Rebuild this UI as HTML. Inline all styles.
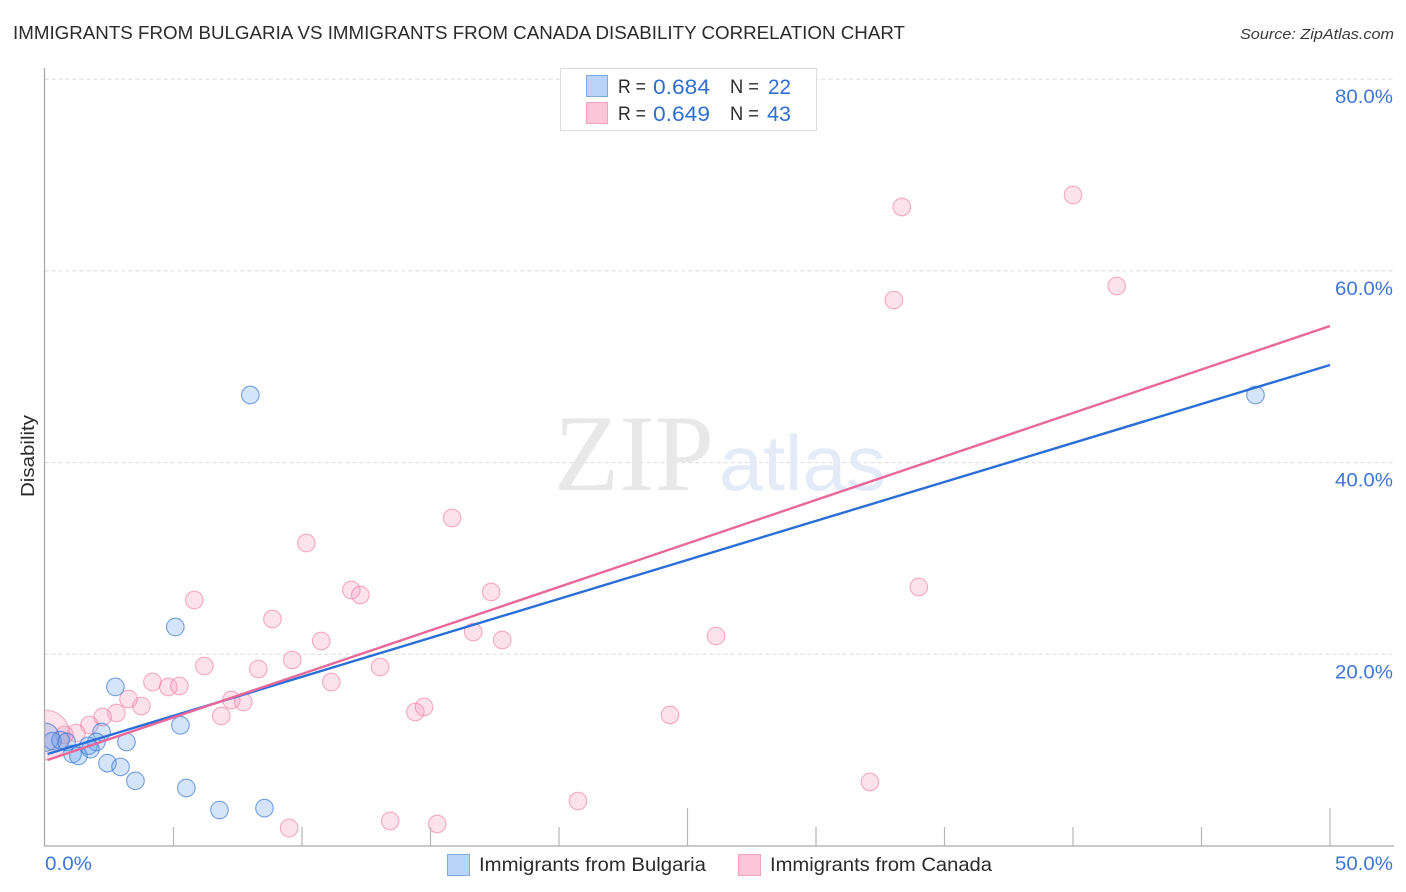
<!DOCTYPE html>
<html lang="en">
<head>
<meta charset="utf-8">
<title>Immigrants from Bulgaria vs Immigrants from Canada Disability Correlation Chart</title>
<style>
html,body{margin:0;padding:0;background:#fff;}
body{width:1406px;height:892px;overflow:hidden;}
svg{display:block;font-family:"Liberation Sans",sans-serif;}
#points{overflow:hidden;}
</style>
</head>
<body>
<svg id="chart" width="1406" height="892" viewBox="0 0 1406 892" xmlns="http://www.w3.org/2000/svg">
  <rect x="0" y="0" width="1406" height="892" fill="#ffffff"/>
  <text x="13" y="39" font-size="18.5" fill="#2b2b2b" textLength="892" lengthAdjust="spacingAndGlyphs">IMMIGRANTS FROM BULGARIA VS IMMIGRANTS FROM CANADA DISABILITY CORRELATION CHART</text>
  <text x="1394" y="39" font-size="15" font-style="italic" fill="#3a3a3a" text-anchor="end" textLength="154" lengthAdjust="spacingAndGlyphs">Source: ZipAtlas.com</text>

  <g id="grid"></g>

  <g>
    <text x="554" y="490" font-family="'Liberation Serif',serif" font-size="109" fill="#e8e8e8" textLength="160" lengthAdjust="spacingAndGlyphs">ZIP</text>
    <text x="719" y="490" font-size="78" fill="#e3ebf9" textLength="167" lengthAdjust="spacingAndGlyphs">atlas</text>
  </g>

  <svg id="points" x="45" y="60" width="1350" height="786" viewBox="45 60 1350 786"></svg>
  <rect x="0" y="60" width="44.5" height="786" fill="#ffffff"/>
  <g id="axes"></g>
  <g id="trends"></g>
  <g id="labels"></g>

  <text transform="translate(34,456) rotate(-90)" font-size="18.5" fill="#2b2b2b" text-anchor="middle" textLength="82" lengthAdjust="spacingAndGlyphs">Disability</text>

  <g>
    <rect x="560.5" y="68.5" width="256" height="62" fill="#ffffff" stroke="#dcdcdc" stroke-width="1"/>
    <rect x="586.5" y="75.5" width="21" height="21" fill="#b9d3f6" stroke="#7fa9e3" stroke-width="1"/>
    <rect x="586.5" y="102.5" width="21" height="21" fill="#fcc5d8" stroke="#f0a3bf" stroke-width="1"/>
    <text x="618" y="93" font-size="19" fill="#2b2b2b" textLength="28" lengthAdjust="spacingAndGlyphs">R =</text>
    <text x="653" y="94" font-size="21" fill="#2e6fd0" textLength="57" lengthAdjust="spacingAndGlyphs">0.684</text>
    <text x="730" y="93" font-size="19" fill="#2b2b2b" textLength="29" lengthAdjust="spacingAndGlyphs">N =</text>
    <text x="768" y="94" font-size="21" fill="#2e6fd0" textLength="23" lengthAdjust="spacingAndGlyphs">22</text>
    <text x="618" y="120" font-size="19" fill="#2b2b2b" textLength="28" lengthAdjust="spacingAndGlyphs">R =</text>
    <text x="653" y="121" font-size="21" fill="#2e6fd0" textLength="57" lengthAdjust="spacingAndGlyphs">0.649</text>
    <text x="730" y="120" font-size="19" fill="#2b2b2b" textLength="29" lengthAdjust="spacingAndGlyphs">N =</text>
    <text x="767" y="121" font-size="21" fill="#2e6fd0" textLength="24" lengthAdjust="spacingAndGlyphs">43</text>
  </g>

  <g>
    <rect x="447.5" y="854.5" width="22" height="21" fill="#b9d3f6" stroke="#7fa9e3" stroke-width="1"/>
    <text x="479" y="871" font-size="19.5" fill="#2b2b2b" textLength="227" lengthAdjust="spacingAndGlyphs">Immigrants from Bulgaria</text>
    <rect x="738.5" y="854.5" width="22" height="21" fill="#fcc5d8" stroke="#f0a3bf" stroke-width="1"/>
    <text x="770" y="871" font-size="19.5" fill="#2b2b2b" textLength="222" lengthAdjust="spacingAndGlyphs">Immigrants from Canada</text>
  </g>
</svg>
<script>
const yTickValues = [20, 40, 60, 80];
const yTickLabels = ['20.0%', '40.0%', '60.0%', '80.0%'];
const xTickValues = [5, 10, 15, 20, 25, 30, 35, 40, 45, 50];
const xMajorTicks = [25, 50];
const xEndValues = [0, 50];
const xEndLabels = ['0.0%', '50.0%'];

const bulgariaX = [7.99, 47.1, 5.07, 2.74, 5.27, 3.17, 2.2, 2.0, 1.69, 1.77, 1.07, 1.3, 2.43, 2.94, 3.52, 5.5, 6.79, 8.54, 0, 0.29, 0.6, 0.84];
const bulgariaY = [47.05, 47.05, 22.85, 16.6, 12.6, 10.85, 11.9, 10.85, 10.45, 10.1, 9.6, 9.4, 8.65, 8.25, 6.8, 6.05, 3.75, 3.95, 11.35, 10.95, 11.05, 10.85];
const bulgariaWeight = [1, 1, 1, 1, 1, 1, 1, 1, 1, 1, 1, 1, 1, 1, 1, 1, 1, 1, 2.6, 1, 1, 1];

const canadaX = [33.34, 40.0, 41.7, 33.03, 15.84, 10.17, 17.36, 11.92, 12.27, 34.0, 5.81, 8.85, 10.75, 16.66, 17.79, 26.11, 9.62, 6.2, 8.3, 13.04, 11.14, 4.18, 4.8, 5.23, 3.25, 3.75, 7.25, 7.72, 6.86, 14.41, 14.75, 24.32, 2.78, 2.24, 1.73, 1.22, 0.76, 0, 32.1, 20.74, 13.43, 15.26, 9.5];
const canadaY = [66.67, 67.92, 58.42, 56.96, 34.22, 31.61, 26.5, 26.71, 26.19, 27.02, 25.66, 23.68, 21.39, 22.33, 21.49, 21.91, 19.41, 18.78, 18.47, 18.67, 17.11, 17.11, 16.59, 16.69, 15.34, 14.61, 15.23, 15.02, 13.56, 13.98, 14.5, 13.67, 13.88, 13.46, 12.62, 11.79, 11.58, 11.58, 6.68, 4.69, 2.61, 2.3, 1.88];
const canadaWeight = [1, 1, 1, 1, 1, 1, 1, 1, 1, 1, 1, 1, 1, 1, 1, 1, 1, 1, 1, 1, 1, 1, 1, 1, 1, 1, 1, 1, 1, 1, 1, 1, 1, 1, 1, 1, 1, 8, 1, 1, 1, 1, 1];

const trendXEnds = [0.1, 50];
const bulgariaTrendY = [9.6, 50.18];
const canadaTrendY = [8.97, 54.25];

const NS = 'http://www.w3.org/2000/svg';
function xScale(v) { return 45 + v * 25.7; }
function yScale(v) { return 846 - v * 9.585; }
function radius(w) { return 8.8 * Math.sqrt(w); }
function make(tag, attrs, parent) {
  const el = document.createElementNS(NS, tag);
  Object.keys(attrs).forEach(function (k) { el.setAttribute(k, attrs[k]); });
  parent.appendChild(el);
  return el;
}

const gridG = document.getElementById('grid');
yTickValues.forEach(function (v) {
  const line = make('line', { x1: 44.5, x2: 1393, y1: yScale(v), y2: yScale(v), stroke: '#dcdcdc', 'stroke-width': 1, 'stroke-dasharray': '4 3' }, gridG);
  
  
});

const axesG = document.getElementById('axes');
const yAxisLine = make('line', { x1: 44.5, x2: 44.5, y1: 68, y2: 846, stroke: '#ababab', 'stroke-width': 1.3 }, axesG);


const xAxisLine = make('line', { x1: 44, x2: 1394, y1: 846, y2: 846, stroke: '#ababab', 'stroke-width': 1.3 }, axesG);


xTickValues.forEach(function (v) {
  const top = xMajorTicks.indexOf(v) >= 0 ? 808 : 827;
  const tick = make('line', { x1: xScale(v), x2: xScale(v), y1: top, y2: 846, stroke: '#b5b5b5', 'stroke-width': 1.2 }, axesG);
  
  
});

const pointsG = document.getElementById('points');
function drawSeries(xs, ys, ws, fill, stroke, name) {
  xs.forEach(function (x, i) {
    const c = make('circle', { cx: xScale(x), cy: yScale(ys[i]), r: radius(ws[i]), fill: fill, stroke: stroke, 'stroke-width': 1.1 }, pointsG);
    
    
  });
}
drawSeries(canadaX, canadaY, canadaWeight, 'rgba(248,150,185,0.28)', 'rgba(236,120,160,0.6)', 'canada-point');
drawSeries(bulgariaX, bulgariaY, bulgariaWeight, 'rgba(90,150,235,0.26)', 'rgba(50,115,210,0.65)', 'bulgaria-point');

const trendsG = document.getElementById('trends');
const bulgariaTrend = make('line', { x1: xScale(trendXEnds[0]), y1: yScale(bulgariaTrendY[0]), x2: xScale(trendXEnds[1]), y2: yScale(bulgariaTrendY[1]), stroke: '#2a6fd8', 'stroke-width': 2.4 }, trendsG);


const canadaTrend = make('line', { x1: xScale(trendXEnds[0]), y1: yScale(canadaTrendY[0]), x2: xScale(trendXEnds[1]), y2: yScale(canadaTrendY[1]), stroke: '#e8689a', 'stroke-width': 2.4 }, trendsG);



const labelsG = document.getElementById('labels');
yTickValues.forEach(function (v, i) {
  const t = make('text', { x: 1393, y: yScale(v) + 24, 'font-size': 19.5, fill: '#3f76d6', 'text-anchor': 'end', textLength: 58, lengthAdjust: 'spacingAndGlyphs' }, labelsG);
  
  
  t.textContent = yTickLabels[i];
});
xEndValues.forEach(function (v, i) {
  const t = make('text', i === 0
    ? { x: xScale(v), y: 870, 'font-size': 19.5, fill: '#3f76d6', textLength: 47, lengthAdjust: 'spacingAndGlyphs' }
    : { x: 1393, y: 870, 'font-size': 19.5, fill: '#3f76d6', 'text-anchor': 'end', textLength: 58, lengthAdjust: 'spacingAndGlyphs' }, labelsG);
  
  
  t.textContent = xEndLabels[i];
});
</script>
</body>
</html>
